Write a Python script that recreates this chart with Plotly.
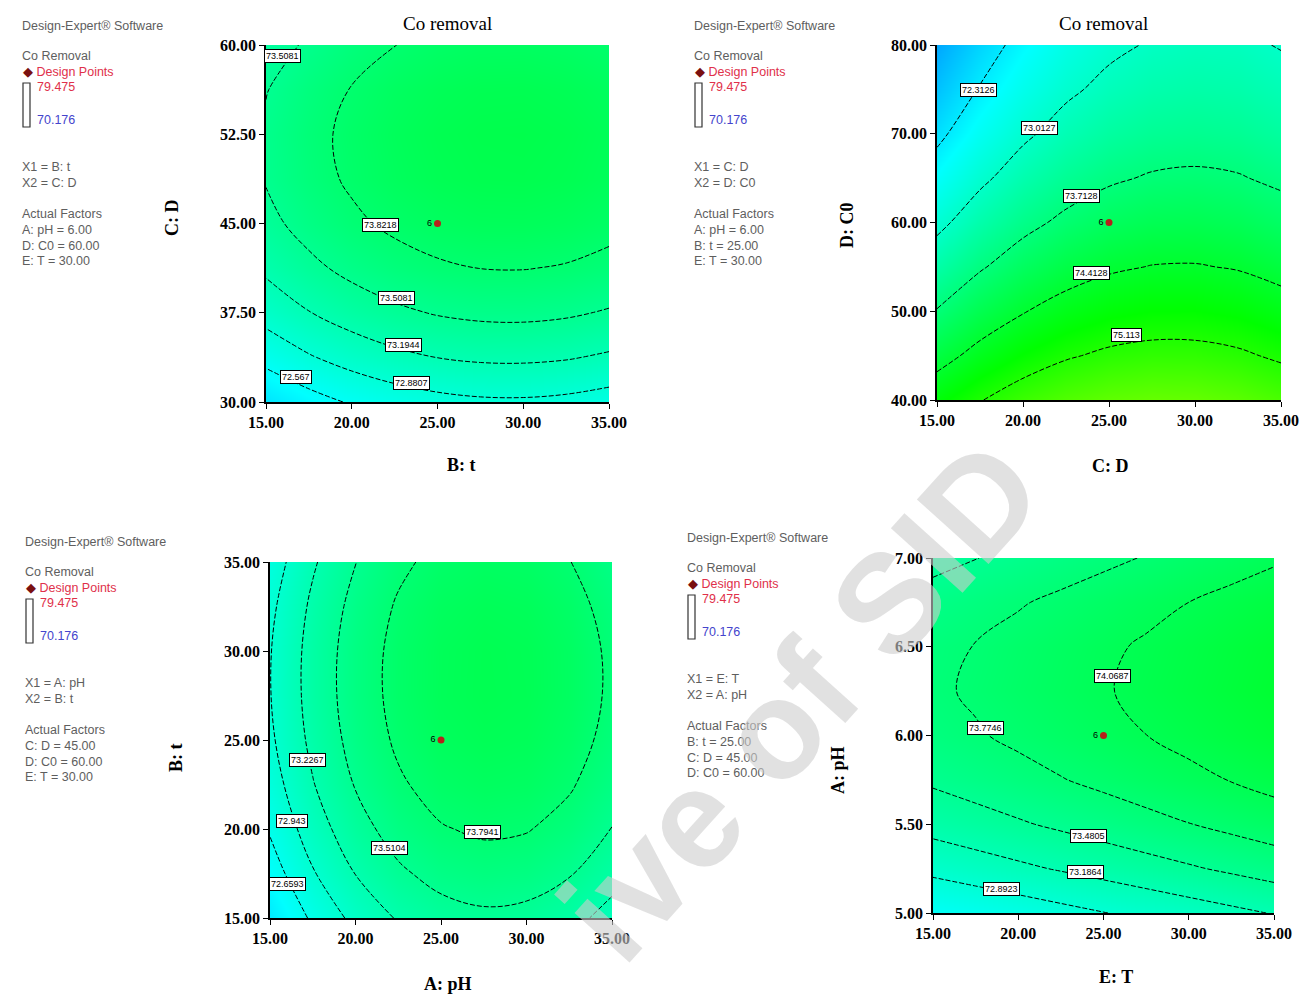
import plotly.graph_objects as go

W, H = 1300, 996

# ---------------- data ----------------
# Panel 1: X1 = B: t, X2 = C: D
p1_x = [15, 17.5, 20, 22.5, 25, 27.5, 30, 32.5, 35]
p1_y = [30, 33.75, 37.5, 41.25, 45, 48.75, 52.5, 56.25, 60]
p1_z = [
    [72.260, 72.447, 72.598, 72.712, 72.791, 72.834, 72.840, 72.810, 72.745],
    [72.667, 72.854, 73.005, 73.120, 73.198, 73.241, 73.247, 73.218, 73.152],
    [72.997, 73.184, 73.335, 73.450, 73.529, 73.571, 73.578, 73.548, 73.482],
    [73.251, 73.438, 73.589, 73.704, 73.782, 73.825, 73.831, 73.802, 73.736],
    [73.428, 73.615, 73.766, 73.880, 73.959, 74.002, 74.008, 73.978, 73.913],
    [73.527, 73.714, 73.865, 73.980, 74.059, 74.101, 74.108, 74.078, 74.012],
    [73.550, 73.737, 73.888, 74.003, 74.082, 74.124, 74.131, 74.101, 74.035],
    [73.496, 73.683, 73.834, 73.949, 74.028, 74.070, 74.077, 74.047, 73.981],
    [73.366, 73.553, 73.704, 73.818, 73.897, 73.940, 73.946, 73.916, 73.851],
]
p1_levels = [72.567, 72.8807, 73.1944, 73.5081, 73.8218]
p1_lab_x = [15.95, 21.7, 22.6, 23.0, 23.5, 16.75]
p1_lab_y = [59.1, 44.9, 38.7, 34.8, 31.6, 32.1]
p1_lab_t = ["73.5081", "73.8218", "73.5081", "73.1944", "72.8807", "72.567"]

# Panel 2: X1 = C: D, X2 = D: C0
p2_x = [15, 17.5, 20, 22.5, 25, 27.5, 30, 32.5, 35]
p2_y = [40, 45, 50, 55, 60, 65, 70, 75, 80]
p2_z = [
    [74.747, 75.090, 75.361, 75.561, 75.690, 75.748, 75.734, 75.649, 75.493],
    [74.222, 74.574, 74.854, 75.063, 75.200, 75.267, 75.262, 75.186, 75.038],
    [73.738, 74.099, 74.387, 74.605, 74.751, 74.827, 74.830, 74.763, 74.624],
    [73.296, 73.665, 73.962, 74.189, 74.344, 74.428, 74.440, 74.382, 74.252],
    [72.894, 73.272, 73.578, 73.813, 73.977, 74.070, 74.091, 74.041, 73.920],
    [72.534, 72.920, 73.235, 73.479, 73.652, 73.753, 73.783, 73.742, 73.630],
    [72.214, 72.609, 72.933, 73.186, 73.367, 73.477, 73.516, 73.484, 73.380],
    [71.936, 72.340, 72.673, 72.934, 73.124, 73.243, 73.291, 73.267, 73.172],
    [71.699, 72.112, 72.453, 72.723, 72.922, 73.050, 73.106, 73.091, 72.990],
]
p2_levels = [72.3126, 73.0127, 73.7128, 74.4128, 75.1129]
p2_lab_x = [17.43, 20.93, 23.4, 23.97, 26.0]
p2_lab_y = [74.9, 70.6, 63.0, 54.3, 47.3]
p2_lab_t = ["72.3126", "73.0127", "73.7128", "74.4128", "75.113"]

# Panel 3: X1 = A: pH, X2 = B: t
p3_x = [15, 17.5, 20, 22.5, 25, 27.5, 30, 32.5, 35]
p3_y = [15, 17.5, 20, 22.5, 25, 27.5, 30, 32.5, 35]
p3_z = [
    [72.308, 72.708, 73.022, 73.252, 73.396, 73.456, 73.430, 73.320, 73.124],
    [72.519, 72.919, 73.233, 73.463, 73.607, 73.667, 73.641, 73.531, 73.335],
    [72.688, 73.087, 73.402, 73.631, 73.776, 73.835, 73.810, 73.699, 73.504],
    [72.813, 73.212, 73.527, 73.756, 73.901, 73.960, 73.935, 73.824, 73.629],
    [72.895, 73.294, 73.609, 73.838, 73.983, 74.042, 74.017, 73.906, 73.711],
    [72.933, 73.333, 73.647, 73.877, 74.021, 74.081, 74.055, 73.945, 73.749],
    [72.929, 73.329, 73.643, 73.873, 74.017, 74.077, 74.051, 73.941, 73.745],
    [72.882, 73.281, 73.596, 73.825, 73.970, 74.029, 74.004, 73.893, 73.698],
    [72.791, 73.191, 73.505, 73.735, 73.879, 73.939, 73.913, 73.803, 73.607],
]
p3_levels = [72.6593, 72.943, 73.2267, 73.5104, 73.7941]
p3_lab_x = [17.17, 16.29, 16.05, 21.97, 27.41]
p3_lab_y = [23.9, 20.45, 16.9, 18.94, 19.84]
p3_lab_t = ["73.2267", "72.943", "72.6593", "73.5104", "73.7941"]

# Panel 4: X1 = E: T, X2 = A: pH
p4_x = [15, 17.5, 20, 22.5, 25, 27.5, 30, 32.5, 35]
p4_y = [5.0, 5.25, 5.5, 5.75, 6.0, 6.25, 6.5, 6.75, 7.0]
p4_z = [
    [72.566, 72.646, 72.725, 72.805, 72.884, 72.963, 73.043, 73.122, 73.201],
    [72.972, 73.051, 73.131, 73.210, 73.289, 73.369, 73.448, 73.527, 73.607],
    [73.291, 73.370, 73.450, 73.529, 73.608, 73.688, 73.767, 73.847, 73.926],
    [73.524, 73.603, 73.683, 73.762, 73.841, 73.921, 74.000, 74.079, 74.159],
    [73.670, 73.750, 73.829, 73.909, 73.988, 74.067, 74.147, 74.226, 74.305],
    [73.731, 73.810, 73.890, 73.969, 74.048, 74.128, 74.207, 74.286, 74.366],
    [73.705, 73.784, 73.864, 73.943, 74.022, 74.102, 74.181, 74.261, 74.340],
    [73.593, 73.672, 73.752, 73.831, 73.910, 73.990, 74.069, 74.148, 74.228],
    [73.394, 73.474, 73.553, 73.633, 73.712, 73.791, 73.871, 73.950, 74.029],
]
p4_levels = [72.8923, 73.1864, 73.4805, 73.7746, 74.0687]
p4_lab_x = [25.5, 18.06, 24.1, 23.93, 19.0]
p4_lab_y = [6.335, 6.04, 5.436, 5.23, 5.133]
p4_lab_t = ["74.0687", "73.7746", "73.4805", "73.1864", "72.8923"]

# Design points (centre point, replicated)
design_x = [25, 25, 25, 25]
design_y = [45, 60, 25, 6.0]
design_n = ["6", "6", "6", "6"]

x_ticks = [15, 20, 25, 30, 35]
p1_yticks = [30, 37.5, 45, 52.5, 60]
p2_yticks = [40, 50, 60, 70, 80]
p3_yticks = [15, 20, 25, 30, 35]
p4_yticks = [5.0, 5.5, 6.0, 6.5, 7.0]

x_titles = ["B: t", "C: D", "A: pH", "E: T"]
y_titles = ["C: D", "D: C0", "B: t", "A: pH"]

z_min, z_max = 70.176, 79.475

legend_x1x2 = [("X1 = B: t", "X2 = C: D"), ("X1 = C: D", "X2 = D: C0"),
               ("X1 = A: pH", "X2 = B: t"), ("X1 = E: T", "X2 = A: pH")]
legend_factors = [["A: pH = 6.00", "D: C0 = 60.00", "E: T = 30.00"],
                  ["A: pH = 6.00", "B: t = 25.00", "E: T = 30.00"],
                  ["C: D = 45.00", "D: C0 = 60.00", "E: T = 30.00"],
                  ["B: t = 25.00", "C: D = 45.00", "D: C0 = 60.00"]]

# ---------------- layout geometry (pixels) ----------------
plot_boxes = [  # left, right, top, bottom
    (266, 609, 45, 402),
    (937, 1281, 45, 400),
    (270, 612, 562, 918),
    (933, 1274, 558, 913),
]
legend_left = [20, 692, 23, 685]
legend_top = [26, 26, 542, 538]

colorscale = [[0, "rgb(0,0,255)"], [0.25, "rgb(0,255,255)"], [0.5, "rgb(0,255,0)"],
              [0.75, "rgb(255,255,0)"], [1, "rgb(255,0,0)"]]

panels = [
    (p1_x, p1_y, p1_z, p1_levels, p1_lab_x, p1_lab_y, p1_lab_t, p1_yticks),
    (p2_x, p2_y, p2_z, p2_levels, p2_lab_x, p2_lab_y, p2_lab_t, p2_yticks),
    (p3_x, p3_y, p3_z, p3_levels, p3_lab_x, p3_lab_y, p3_lab_t, p3_yticks),
    (p4_x, p4_y, p4_z, p4_levels, p4_lab_x, p4_lab_y, p4_lab_t, p4_yticks),
]


def px(xp):
    return xp / W


def py(yp):
    return 1 - yp / H


fig = go.Figure()
annotations = []
shapes = []
layout_axes = {}

serif = "Liberation Serif"
sans = "Liberation Sans"

for i, (xs, ys, zs, levels, lx, ly, lt, yt) in enumerate(panels):
    n = i + 1
    xa = "x" if n == 1 else f"x{n}"
    ya = "y" if n == 1 else f"y{n}"
    step = (levels[-1] - levels[0]) / (len(levels) - 1)
    fig.add_trace(go.Contour(
        x=xs, y=ys, z=zs, xaxis=xa, yaxis=ya,
        colorscale=colorscale, zmin=z_min, zmax=z_max, zauto=False,
        showscale=False,
        contours=dict(start=levels[0], end=levels[-1] + step * 0.01, size=step,
                      coloring="heatmap", showlabels=False),
        line=dict(color="black", width=1, dash="5px,2px", smoothing=1.0),
        hoverinfo="skip",
    ))
    fig.add_trace(go.Scatter(
        x=[design_x[i]], y=[design_y[i]], xaxis=xa, yaxis=ya,
        mode="markers+text", text=[design_n[i]], textposition="middle left",
        textfont=dict(size=9, color="black", family=sans),
        marker=dict(color="#b5221b", size=7, line=dict(width=0)),
        showlegend=False, hoverinfo="skip",
    ))
    l, r, t, b = plot_boxes[i]
    yr = [yt[0], yt[-1]]
    common = dict(
        ticks="outside", ticklen=5, tickcolor="black", tickwidth=1,
        showline=True, linecolor="black", linewidth=1.5, showgrid=False, zeroline=False,
        automargin=False,
        tickfont=dict(family=serif, size=16, color="black", weight="bold"),
    )
    layout_axes["xaxis" if n == 1 else f"xaxis{n}"] = dict(
        domain=[px(l), px(r)], anchor=ya, range=[15, 35],
        tickvals=x_ticks, ticktext=[f"{v:.2f}" for v in x_ticks], **common)
    layout_axes["yaxis" if n == 1 else f"yaxis{n}"] = dict(
        domain=[py(b), py(t)], anchor=xa, range=yr,
        tickvals=yt, ticktext=[f"{v:.2f}" for v in yt], **common)
    # contour labels
    for xv, yv, tv in zip(lx, ly, lt):
        annotations.append(dict(
            x=xv, y=yv, xref=xa, yref=ya, text=tv, showarrow=False,
            font=dict(family=sans, size=9, color="black"),
            bgcolor="white", bordercolor="black", borderwidth=1, borderpad=1,
        ))

# panel titles
title_pos = [(447, 24), (1103, 24)]
for (xp_, yp_) in title_pos:
    annotations.append(dict(x=px(xp_), y=py(yp_), xref="paper", yref="paper",
                            text="Co removal", showarrow=False,
                            xanchor="center", yanchor="middle",
                            font=dict(family=serif, size=19, color="black")))

# axis titles
xtitle_pos = [(461, 465), (1110, 466), (448, 984), (1116, 977)]
ytitle_pos = [(172, 218), (847, 225), (176, 758), (838, 770)]
for i in range(4):
    annotations.append(dict(x=px(xtitle_pos[i][0]), y=py(xtitle_pos[i][1]),
                            xref="paper", yref="paper", text=x_titles[i], showarrow=False,
                            xanchor="center", yanchor="middle",
                            font=dict(family=serif, size=18, color="black", weight="bold")))
    annotations.append(dict(x=px(ytitle_pos[i][0]), y=py(ytitle_pos[i][1]),
                            xref="paper", yref="paper", text=y_titles[i], showarrow=False,
                            textangle=-90, xanchor="center", yanchor="middle",
                            font=dict(family=serif, size=18, color="black", weight="bold")))

# Design-Expert side legends
gray = "#5e5e5e"
for i in range(4):
    x0 = legend_left[i]
    y0 = legend_top[i]
    rows = [
        (0, "Design-Expert® Software", gray, x0),
        (30, "Co Removal", gray, x0),
        (46, "<span style='color:#7a1010'>◆</span> Design Points", "#e0304a", x0 + 1),
        (61, "79.475", "#e0304a", x0 + 15),
        (94, "70.176", "#4444cc", x0 + 15),
        (141, legend_x1x2[i][0], gray, x0),
        (157, legend_x1x2[i][1], gray, x0),
        (188, "Actual Factors", gray, x0),
        (204, legend_factors[i][0], gray, x0),
        (220, legend_factors[i][1], gray, x0),
        (235, legend_factors[i][2], gray, x0),
    ]
    for dy, txt, col, xx in rows:
        annotations.append(dict(x=px(xx), y=py(y0 + dy), xref="paper", yref="paper",
                                text=txt, showarrow=False, xanchor="left", yanchor="middle",
                                font=dict(family=sans, size=12.5, color=col)))
    shapes.append(dict(type="rect", xref="paper", yref="paper",
                       x0=px(x0 + 3), x1=px(x0 + 10), y0=py(y0 + 101), y1=py(y0 + 57),
                       line=dict(color="#333333", width=1.2), fillcolor="rgba(0,0,0,0)"))

# watermark (visible part)
annotations.append(dict(x=px(800), y=py(700), xref="paper", yref="paper",
                        text="ive of SID", showarrow=False, textangle=-48,
                        xanchor="center", yanchor="middle",
                        font=dict(family=sans, size=140, color="rgba(205,205,205,0.6)",
                                  weight="bold")))

fig.update_layout(
    template="none",
    width=W, height=H, margin=dict(l=0, r=0, t=0, b=0, pad=0, autoexpand=False),
    paper_bgcolor="white", plot_bgcolor="white", showlegend=False,
    annotations=annotations, shapes=shapes, **layout_axes,
)

fig.write_html(
    "out.html",
    config={"displayModeBar": False},
    post_script="document.body.style.margin='0px';document.body.style.overflow='hidden';",
)
